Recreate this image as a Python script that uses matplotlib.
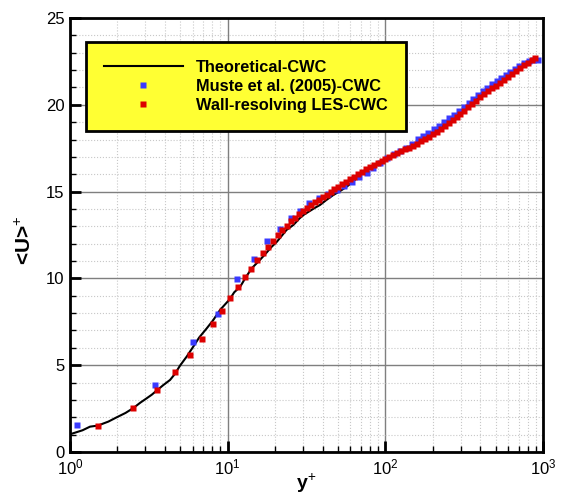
import matplotlib
matplotlib.use('Agg')
import matplotlib.pyplot as plt
from matplotlib.ticker import LogLocator, MultipleLocator

plt.rcParams['font.family'] = ['Liberation Sans', 'DejaVu Sans']
plt.rcParams['mathtext.fontset'] = 'custom'
plt.rcParams['mathtext.rm'] = 'Liberation Sans'
plt.rcParams['mathtext.bf'] = 'Liberation Sans:bold'

# Theoretical-CWC
yp_theory = [1.0, 1.2, 1.34, 1.5, 1.75, 1.98, 2.25, 2.52, 2.8, 3.06, 3.3, 3.58, 3.9, 4.31, 4.63,
             4.98, 5.5, 6.05, 6.6, 7.36, 8.1, 8.94, 10.3, 11.0, 12.0, 13.0, 14.2, 16.0, 17.5,
             19.0, 20.5, 22.0, 23.6, 26.1, 28.5, 30.2, 32.6, 35.5, 38.5, 42, 46.7, 51, 56.8,
             61, 65.8, 69, 75, 82, 90, 100, 112, 125, 140, 160, 180, 200, 225, 250, 280, 315,
             350, 400, 450, 500, 560, 630, 700, 780, 850, 880]
u_theory = [1.02, 1.25, 1.46, 1.52, 1.75, 2.0, 2.25, 2.53, 2.85, 3.09, 3.3, 3.57, 3.85, 4.15, 4.5,
            4.97, 5.5, 6.07, 6.6, 7.12, 7.6, 8.18, 8.80, 9.2, 9.52, 10.05, 10.58, 11.06, 11.45,
            11.82, 12.11, 12.45, 12.79, 13.08, 13.45, 13.65, 13.84, 14.05, 14.23, 14.50, 14.8, 15.0, 15.28,
            15.50, 15.77, 16.05, 16.25, 16.45, 16.65, 16.90, 17.1, 17.3, 17.55, 17.85, 18.12, 18.4, 18.72, 19.05, 19.38, 19.75,
            20.08, 20.52, 20.88, 21.15, 21.48, 21.80, 22.05, 22.32, 22.52, 22.58]

# Muste et al. (2005)-CWC
yp_muste = [1.10, 3.46, 6.03, 8.72, 11.5, 14.6, 17.7, 21.5, 25.3, 28.9, 32.9, 37.8, 43.0, 49.1,
            55, 61, 68, 76, 84, 93, 103, 113, 124, 135, 147, 160, 173, 187, 202, 218, 235, 253,
            272, 292, 314, 337, 361, 387, 414, 443, 474, 507, 542, 579, 619, 662, 708, 757, 810,
            866, 925]
u_muste = [1.56, 3.86, 6.36, 7.93, 9.95, 11.14, 12.17, 12.83, 13.48, 13.88, 14.33, 14.61, 14.86, 15.09,
           15.30, 15.55, 15.82, 16.10, 16.35, 16.62, 16.95, 17.15, 17.33, 17.50, 17.72, 18.03, 18.20, 18.38,
           18.58, 18.78, 19.00, 19.22, 19.44, 19.67, 19.90, 20.12, 20.34, 20.56, 20.77, 20.98, 21.19, 21.37,
           21.55, 21.73, 21.91, 22.08, 22.24, 22.38, 22.50, 22.58, 22.60]

# Wall-resolving LES-CWC
yp_les = [1.5, 2.52, 3.58, 4.63, 5.77, 6.87, 8.03, 9.16, 10.3, 11.6, 12.9, 14.1, 15.4, 16.7, 18.0,
          19.4, 20.7, 22.2, 23.7, 25.2, 26.7, 28.3, 30.0, 31.8, 33.7, 35.7, 37.8, 40.0, 42.4, 44.9,
          47.5, 50.3, 53.3, 56.5, 59.8, 63.4, 67.1, 71.1, 75.3, 79.8, 84.5, 89.5, 94.8, 100, 106,
          112, 119, 126, 134, 142, 150, 159, 168, 178, 189, 200, 212, 224, 238, 252, 267, 283, 299,
          317, 336, 356, 377, 399, 423, 448, 475, 503, 533, 565, 598, 634, 671, 711, 753, 798, 845, 895]
u_les = [1.50, 2.53, 3.57, 4.59, 5.57, 6.51, 7.37, 8.14, 8.85, 9.49, 10.06, 10.56, 11.04, 11.45, 11.81,
         12.15, 12.48, 12.77, 13.04, 13.29, 13.50, 13.72, 13.90, 14.06, 14.22, 14.38, 14.53, 14.68, 14.83, 14.98,
         15.13, 15.28, 15.43, 15.58, 15.72, 15.86, 16.00, 16.14, 16.28, 16.41, 16.54, 16.66, 16.78, 16.90, 17.01,
         17.11, 17.22, 17.32, 17.43, 17.54, 17.65, 17.77, 17.89, 18.02, 18.16, 18.30, 18.45, 18.61, 18.78, 18.95,
         19.13, 19.31, 19.49, 19.67, 19.86, 20.05, 20.24, 20.44, 20.60, 20.78, 20.95, 21.11, 21.27, 21.44, 21.61,
         21.78, 21.95, 22.12, 22.28, 22.43, 22.57, 22.70]

fig = plt.figure(figsize=(5.61, 4.95), dpi=100)
ax = fig.add_axes([0.1248, 0.0869, 0.8432, 0.8767])

ax.plot(yp_theory, u_theory, color='black', lw=1.5, label='Theoretical-CWC', zorder=3)
ax.plot(yp_muste, u_muste, ls='none', marker='s', ms=4.0, color='#3a3aff', mec='none',
        label='Muste et al. (2005)-CWC', zorder=4)
ax.plot(yp_les, u_les, ls='none', marker='s', ms=4.2, color='#dd0000', mec='none',
        label='Wall-resolving LES-CWC', zorder=5)

ax.set_xscale('log')
ax.set_xlim(1, 1000)
ax.set_ylim(0, 25)
ax.yaxis.set_major_locator(MultipleLocator(5))
ax.yaxis.set_minor_locator(MultipleLocator(1))
ax.xaxis.set_major_locator(LogLocator(base=10, numticks=10))
ax.xaxis.set_minor_locator(LogLocator(base=10, subs=range(2, 10), numticks=20))

ax.grid(which='major', color='#7f7f7f', lw=1.0, ls='-')
ax.grid(which='minor', color='#c8c8c8', lw=0.8, ls=':')
ax.set_axisbelow(True)

ax.tick_params(which='major', direction='in', length=8, width=2, labelsize=12, pad=4)
ax.tick_params(which='minor', direction='in', length=4, width=1)
for s in ax.spines.values():
    s.set_linewidth(2)

ax.set_xlabel('y$^{+}$', fontsize=14, fontweight='bold', va='center')
ax.xaxis.set_label_coords(0.5, -0.072)
ax.set_ylabel('<U>$^{+}$', fontsize=15, fontweight='bold', va='center')
ax.yaxis.set_label_coords(-0.097, 0.488)

leg = ax.legend(loc='upper left', bbox_to_anchor=(0.034, 0.945),
                prop={'weight': 'bold', 'size': 11.8}, frameon=True, fancybox=False,
                handlelength=4.8, handletextpad=0.8, borderpad=1.1, labelspacing=0.25,
                borderaxespad=0, numpoints=1)
leg.get_frame().set_facecolor('#ffff33')
leg.get_frame().set_edgecolor('black')
leg.get_frame().set_linewidth(2)
leg.get_frame().set_alpha(1)

fig.savefig('out.png', dpi=100)
